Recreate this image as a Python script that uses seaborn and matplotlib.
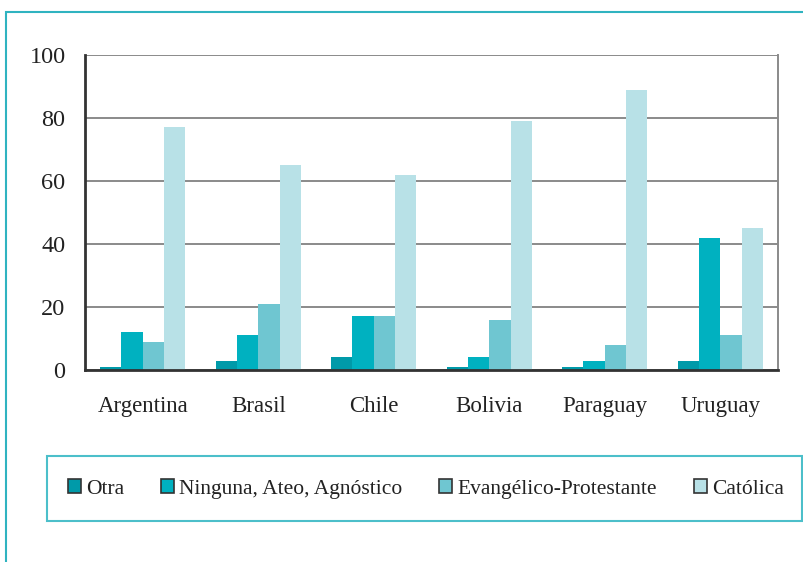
import pandas as pd
import matplotlib.pyplot as plt
from matplotlib.patches import Rectangle
import seaborn as sns

# values (percent)
paises = ["Argentina", "Brasil", "Chile", "Bolivia", "Paraguay", "Uruguay"]
religiones = ["Otra", "Ninguna, Ateo, Agnóstico", "Evangélico-Protestante", "Católica"]
otra = [1, 3, 4, 1, 1, 3]
ninguna = [12, 11, 17, 4, 3, 42]
evangelico = [9, 21, 17, 16, 8, 11]
catolica = [77, 65, 62, 79, 89, 45]
colores = ["#009aa9", "#00b1c0", "#6fc6d1", "#b8e1e7"]

df = pd.DataFrame({
    "pais": paises * 4,
    "religion": [r for r in religiones for _ in paises],
    "valor": otra + ninguna + evangelico + catolica,
})

sns.set_style("white")
plt.rcParams["font.family"] = ["Liberation Serif", "DejaVu Serif"]

fig = plt.figure(figsize=(8.04, 5.62), dpi=100)
ax = fig.add_axes([85 / 804, 1 - 370 / 562, 693 / 804, 315 / 562])

sns.barplot(data=df, x="pais", y="valor", hue="religion", hue_order=religiones,
            palette=colores, saturation=1, width=0.74, gap=0, linewidth=0, ax=ax)

ax.set_ylim(0, 100)
ax.set_xlim(-0.5, len(paises) - 0.5)
ax.set_yticks([0, 20, 40, 60, 80, 100])
ax.yaxis.grid(True, color="#8a8a8a", linewidth=1.4)
ax.set_axisbelow(True)
ax.set_xlabel("")
ax.set_ylabel("")

# ticks between categories, labels at centres
ax.set_xticks([i - 0.5 for i in range(len(paises) + 1)], minor=True)
ax.tick_params(axis="x", which="major", length=0, pad=18.5, labelsize=16.5, labelcolor="#222222")
ax.tick_params(axis="x", which="minor", length=6, width=2, color="#333333", direction="out")
ax.tick_params(axis="y", length=6, width=2, color="#333333", direction="out",
               labelsize=17.5, labelcolor="#222222", pad=8)

for s in ["left", "bottom"]:
    ax.spines[s].set_color("#333333")
    ax.spines[s].set_linewidth(2)
ax.spines["right"].set_color("#8a8a8a")
ax.spines["right"].set_linewidth(1.4)
ax.spines["top"].set_visible(False)

handles, labels = ax.get_legend_handles_labels()
ax.get_legend().remove()
for h in handles:
    h.set_edgecolor("#333333")
    h.set_linewidth(1.2)
fig.legend(handles, labels, loc="center", bbox_to_anchor=(426 / 804, 1 - 489 / 562),
           ncol=4, frameon=False, fontsize=15.5, handlelength=0.6, handleheight=0.6,
           handletextpad=0.25, columnspacing=1.7, labelcolor="#222222")

# outer frame and legend box
fig.patches.append(Rectangle((6 / 804, -0.05), 1.0, 1 - 12 / 562 + 0.05, transform=fig.transFigure,
                             fill=False, edgecolor="#2fb3c0", linewidth=1.5))
fig.patches.append(Rectangle((47 / 804, 1 - 521 / 562), 755 / 804, 65 / 562, transform=fig.transFigure,
                             fill=False, edgecolor="#4cbfca", linewidth=1.5))

plt.savefig("out.png", dpi=100)
